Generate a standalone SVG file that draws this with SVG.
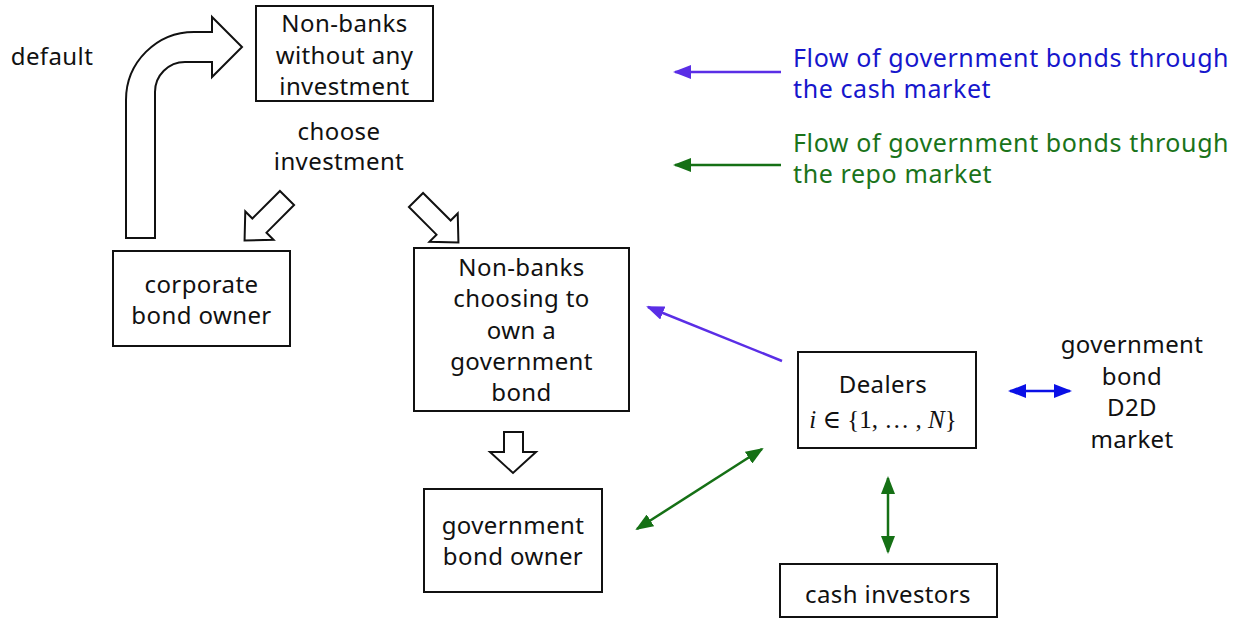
<svg xmlns="http://www.w3.org/2000/svg" width="1242" height="619" viewBox="0 0 1242 619">
<defs>
<style>
text{font-family:"Noto Sans","DejaVu Sans",sans-serif;font-size:24px;fill:#111;text-anchor:middle;letter-spacing:0.4px}
.box{fill:#fff;stroke:#111;stroke-width:2}
.blk{fill:#fff;stroke:#111;stroke-width:2;stroke-linejoin:miter}
.cash{stroke:#5a2ee6;stroke-width:2.5;fill:none}
.repo{stroke:#157015;stroke-width:2.5;fill:none}
.d2d{stroke:#0a10e6;stroke-width:2.5;fill:none}
.math{font-family:"Liberation Serif","DejaVu Serif",serif;font-size:25px;letter-spacing:0}
.leg{text-anchor:start;font-size:25px;letter-spacing:0.6px}
</style>
<marker id="mc" markerUnits="userSpaceOnUse" viewBox="0 0 18 14" refX="16" refY="7" markerWidth="18" markerHeight="14" orient="auto-start-reverse"><path d="M0,0 L18,7 L0,14 z" fill="#5a2ee6"/></marker>
<marker id="mr" markerUnits="userSpaceOnUse" viewBox="0 0 18 14" refX="16" refY="7" markerWidth="18" markerHeight="14" orient="auto-start-reverse"><path d="M0,0 L18,7 L0,14 z" fill="#157015"/></marker>
<marker id="md" markerUnits="userSpaceOnUse" viewBox="0 0 18 14" refX="16" refY="7" markerWidth="18" markerHeight="14" orient="auto-start-reverse"><path d="M0,0 L18,7 L0,14 z" fill="#0a10e6"/></marker>
</defs>
<rect width="1242" height="619" fill="#fff"/>

<g id="connectors">
<path class="blk" d="M126,238 L126,100 A68,68 0 0 1 194,32 L212,32 L212,17 L242,47 L212,77 L212,62 L185,62 A30,30 0 0 0 155,92 L155,238 Z"/>
<polygon class="blk" transform="translate(287,198) rotate(135)" points="0,-10 39,-10 39,-20 60,0 39,20 39,10 0,10"/>
<polygon class="blk" transform="translate(416,200) rotate(45)" points="0,-10 39,-10 39,-20 60,0 39,20 39,10 0,10"/>
<polygon class="blk" points="504,432 523,432 523,452 536,452 513,473 490,452 504,452"/>
<line class="cash" x1="782" y1="361" x2="648" y2="307" marker-end="url(#mc)"/>
<line class="repo" x1="637" y1="529" x2="762" y2="449" marker-start="url(#mr)" marker-end="url(#mr)"/>
<line class="repo" x1="888" y1="478" x2="888" y2="552" marker-start="url(#mr)" marker-end="url(#mr)"/>
<line class="d2d" x1="1010" y1="391" x2="1070" y2="391" marker-start="url(#md)" marker-end="url(#md)"/>
<line class="cash" x1="781" y1="72" x2="675" y2="72" marker-end="url(#mc)"/>
<line class="repo" x1="781" y1="165" x2="675" y2="165" marker-end="url(#mr)"/>
</g>

<g id="label-default"><text x="52" y="65">default</text></g>
<g id="label-choose"><text x="339" y="140">choose</text><text x="339" y="170">investment</text></g>

<g id="node-nobanks">
<rect class="box" x="256" y="6" width="177" height="95"/>
<text x="344.5" y="32">Non-banks</text>
<text x="344.5" y="63.5">without any</text>
<text x="344.5" y="95">investment</text>
</g>

<g id="node-corporate">
<rect class="box" x="113" y="251" width="177" height="95"/>
<text x="201.5" y="293">corporate</text>
<text x="201.5" y="324">bond owner</text>
</g>

<g id="node-choosing">
<rect class="box" x="414" y="248" width="215" height="163"/>
<text x="521.5" y="276">Non-banks</text>
<text x="521.5" y="307">choosing to</text>
<text x="521.5" y="338.5">own a</text>
<text x="521.5" y="370">government</text>
<text x="521.5" y="401">bond</text>
</g>

<g id="node-govowner">
<rect class="box" x="424" y="489" width="178" height="103"/>
<text x="513" y="534">government</text>
<text x="513" y="565">bond owner</text>
</g>

<g id="node-dealers">
<rect class="box" x="798" y="352" width="178" height="96"/>
<text x="883" y="393">Dealers</text>
<text class="math" x="883" y="428"><tspan font-style="italic">i</tspan> ∈ {1, … , <tspan font-style="italic">N</tspan>}</text>
</g>

<g id="node-cash">
<rect class="box" x="780" y="564" width="217" height="53"/>
<text x="888" y="603">cash investors</text>
</g>

<g id="node-d2d">
<text x="1132" y="353">government</text>
<text x="1132" y="384.5">bond</text>
<text x="1132" y="416">D2D</text>
<text x="1132" y="447.5">market</text>
</g>

<g id="legend">
<text class="leg" x="793" y="67" style="fill:#1616cc">Flow of government bonds through</text>
<text class="leg" x="793" y="98" style="fill:#1616cc">the cash market</text>
<text class="leg" x="793" y="152" style="fill:#1a731a">Flow of government bonds through</text>
<text class="leg" x="793" y="183" style="fill:#1a731a">the repo market</text>
</g>
</svg>
